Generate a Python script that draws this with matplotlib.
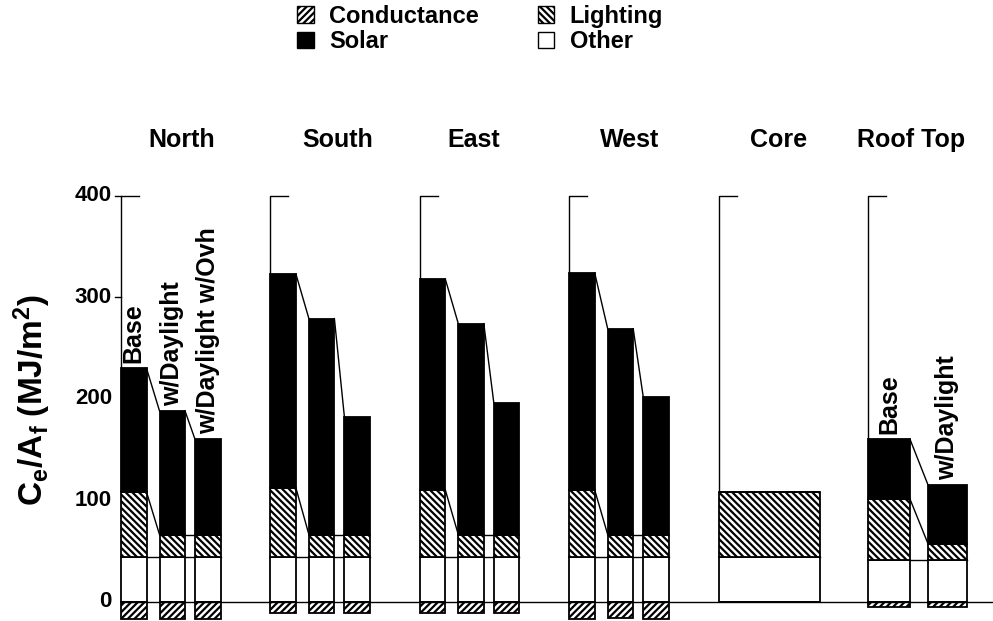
import numpy as np
import matplotlib.pyplot as plt
from matplotlib.patches import Patch

plt.rcParams['font.family'] = ['Liberation Sans', 'DejaVu Sans']
plt.rcParams['font.weight'] = 'bold'
plt.rcParams['mathtext.fontset'] = 'custom'
plt.rcParams['mathtext.bf'] = 'Liberation Sans:bold'
plt.rcParams['mathtext.rm'] = 'Liberation Sans:bold'
plt.rcParams['mathtext.default'] = 'bf'
plt.rcParams['hatch.linewidth'] = 1.6

# data, MJ/m2, one list per group (one entry per case)
groups = ['North', 'South', 'East', 'West', 'Core', 'Roof Top']
other = [[44, 44, 44], [44, 44, 44], [44, 44, 44], [44, 44, 44], [44], [41, 41]]
lighting = [[64, 22, 22], [68, 22, 22], [66, 22, 22], [66, 22, 22], [64], [60, 16]]
solar = [[122, 122, 94], [211, 213, 116], [208, 208, 130], [214, 203, 136], [0], [59, 58]]
conductance = [[-17, -17, -17], [-11, -11, -11], [-11, -11, -11], [-17, -16, -17], [0], [-5, -5]]
case_labels = [['Base', 'w/Daylight', 'w/Daylight w/Ovh'], [], [], [], [],
               ['Base', 'w/Daylight']]
yticks = [0, 100, 200, 300, 400]

# layout (pixel-like x units, y in data units)
W, H = 993, 621
y0_px, px_per = 601.5, 1.014
group_x0 = [121 + 149.4 * i for i in range(6)]
title_x = [182, 338, 474, 630, 779, 911]
offsets = {3: [0, 38.5, 74], 1: [0], 2: [0, 60]}
widths = {3: [25.5, 25.5, 25.5], 1: [101], 2: [42, 39]}
light_hatch = '\\' * 5
cond_hatch = '/' * 5

fig = plt.figure(figsize=(W / 100, H / 100), dpi=100)
ax = fig.add_axes([0, 0, 1, 1])
ax.set_xlim(0, W)
ax.set_ylim(-(H - y0_px) / px_per, y0_px / px_per)
ax.axis('off')

lw = 1.3
for g, name in enumerate(groups):
    n = len(other[g])
    xs = [group_x0[g] + o for o in offsets[n]]
    ws = widths[n]
    oth = np.array(other[g])
    lig = np.array(lighting[g])
    sol = np.array(solar[g])
    con = np.array(conductance[g])
    ltop = oth + lig
    top = ltop + sol

    ax.bar(xs, oth, ws, align='edge', facecolor='white', edgecolor='black', linewidth=lw, zorder=2)
    ax.bar(xs, lig, ws, bottom=oth, align='edge', facecolor='white', edgecolor='black',
           hatch=light_hatch, linewidth=lw, zorder=2)
    ax.bar(xs, sol, ws, bottom=ltop, align='edge', facecolor='black', edgecolor='black',
           linewidth=lw, zorder=2)
    ax.bar(xs, con, ws, align='edge', facecolor='white', edgecolor='black',
           hatch=cond_hatch, linewidth=lw, zorder=2)

    # connectors between cases
    for i in range(n - 1):
        xr = xs[i] + ws[i]
        xl = xs[i + 1]
        ax.plot([xr, xl], [top[i], top[i + 1]], color='black', lw=1.0, zorder=1)
        ax.plot([xr, xl], [ltop[i], ltop[i + 1]], color='black', lw=1.0, zorder=1)
    ax.plot([xs[0], xs[-1] + ws[-1]], [oth[0], oth[0]], color='black', lw=1.0, zorder=1)

    # bracket up to 400
    ax.plot([xs[0], xs[0], xs[0] + 18], [top[0], 400, 400], color='black', lw=1.0, zorder=1)

    ax.text(title_x[g], 455, name, ha='center', va='center', fontsize=18)

    for i, lab in enumerate(case_labels[g]):
        ax.text(xs[i] + ws[i] / 2, top[i] + 5, lab, rotation=90,
                ha='center', va='bottom', fontsize=18)

# zero line and y axis ticks
ax.plot([group_x0[0], W], [0, 0], color='black', lw=1.0, zorder=3)
for t in [300, 400]:
    ax.plot([group_x0[0] - 6, group_x0[0]], [t, t], color='black', lw=1.0)
for t in yticks:
    ax.text(112, t, str(t), ha='right', va='center', fontsize=16)

ax.text(32, 199, r'C$_e$/A$_f$ (MJ/m$^2$)', rotation=90, ha='center', va='center',
        fontsize=24)

handles = [Patch(facecolor='white', edgecolor='black', hatch=cond_hatch),
           Patch(facecolor='black', edgecolor='black'),
           Patch(facecolor='white', edgecolor='black', hatch=light_hatch),
           Patch(facecolor='white', edgecolor='black')]
labels = ['Conductance', 'Solar', 'Lighting', 'Other']
fig.legend(handles, labels, ncol=2, loc='upper left',
           bbox_to_anchor=(297 / W, 1 - 5 / H), frameon=False, fontsize=17,
           handlelength=0.7, handleheight=0.7, handletextpad=0.65,
           columnspacing=2.5, labelspacing=0.1, borderpad=0, borderaxespad=0)

fig.savefig('out.png', dpi=100)
